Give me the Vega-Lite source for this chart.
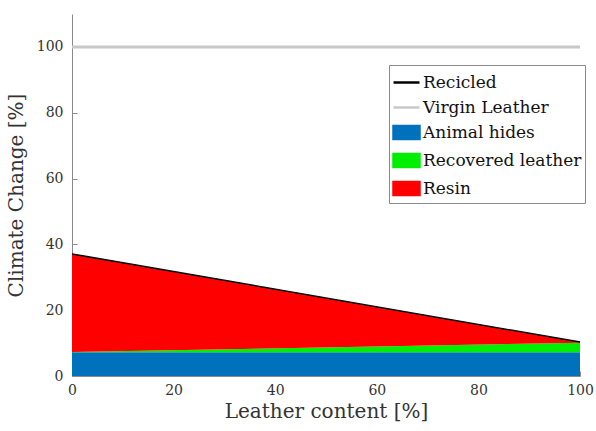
{
  "$schema": "https://vega.github.io/schema/vega-lite/v6.json",
  "width": 508,
  "height": 362,
  "autosize": {"type": "none"},
  "padding": {"left": 72, "top": 14, "right": 16, "bottom": 55},
  "background": "white",
  "config": {
    "view": {"stroke": null},
    "font": "DejaVu Serif",
    "axis": {
      "grid": false,
      "domainColor": "#8a8a8a",
      "tickColor": "#8a8a8a",
      "labelColor": "#333333",
      "titleColor": "#333333",
      "labelFont": "DejaVu Serif",
      "titleFont": "DejaVu Serif",
      "labelFontSize": 14,
      "titleFontSize": 20,
      "titleFontWeight": "normal",
      "tickSize": -5,
      "labelFlush": false
    },
    "legend": {
      "labelFont": "DejaVu Serif",
      "labelFontSize": 17,
      "labelColor": "#111111",
      "labelLimit": 400
    }
  },
  "datasets": {
    "areas": [
      {"leather": 0, "value": 7.2, "series": "Animal hides"},
      {"leather": 100, "value": 7.2, "series": "Animal hides"},
      {"leather": 0, "value": 0.1, "series": "Recovered leather"},
      {"leather": 100, "value": 2.9, "series": "Recovered leather"},
      {"leather": 0, "value": 29.8, "series": "Resin"},
      {"leather": 100, "value": 0.2, "series": "Resin"}
    ],
    "lines": [
      {"leather": 0, "value": 37.1, "series": "Recicled"},
      {"leather": 100, "value": 10.3, "series": "Recicled"},
      {"leather": 0, "value": 100, "series": "Virgin Leather"},
      {"leather": 100, "value": 100, "series": "Virgin Leather"}
    ]
  },
  "layer": [
    {
      "data": {"name": "areas"},
      "mark": {"type": "area", "opacity": 1},
      "encoding": {
        "x": {
          "field": "leather", "type": "quantitative",
          "scale": {"domain": [0, 100], "nice": false},
          "axis": {"values": [0, 20, 40, 60, 80, 100], "title": "Leather content [%]", "titlePadding": 4, "labelPadding": 12}
        },
        "y": {
          "field": "value", "type": "quantitative", "stack": "zero",
          "scale": {"domain": [0, 110], "nice": false},
          "axis": {"values": [0, 20, 40, 60, 80, 100], "title": "Climate Change [%]", "titlePadding": 10, "labelPadding": 14}
        },
        "order": {"field": "series", "sort": "ascending"},
        "color": {
          "field": "series", "type": "nominal",
          "scale": {
            "domain": ["Recicled", "Virgin Leather", "Animal hides", "Recovered leather", "Resin"],
            "range": ["#000000", "#c8c8c8", "#0072BD", "#00ee00", "#ff0000"]
          },
          "legend": {
            "title": null,
            "orient": "none",
            "legendX": 317,
            "legendY": 51,
            "padding": 3,
            "strokeColor": "#8a8a8a",
            "fillColor": "white",
            "labelFont": "DejaVu Serif",
            "labelFontSize": 17,
            "labelLimit": 400,
            "labelColor": "#111111",
            "labelOffset": 2,
            "rowPadding": 2,
            "symbolSize": 676,
            "symbolOpacity": 1,
            "encode": {
              "labels": {
                "update": {
                  "font": {"value": "DejaVu Serif"},
                  "fontSize": {"value": 17},
                  "limit": {"value": 400}
                }
              },
              "symbols": {
                "update": {
                  "shape": {"signal": "(datum.value == 'Recicled' || datum.value == 'Virgin Leather') ? 'M-1,0H1' : 'M-1,-0.5H1V0.5H-1Z'"},
                  "fill": {"signal": "datum.value == 'Animal hides' ? '#0072BD' : datum.value == 'Recovered leather' ? '#00ee00' : datum.value == 'Resin' ? '#ff0000' : 'transparent'"},
                  "stroke": {"signal": "datum.value == 'Recicled' ? '#000000' : datum.value == 'Virgin Leather' ? '#c8c8c8' : 'transparent'"},
                  "strokeWidth": {"value": 2.5},
                  "opacity": {"value": 1}
                }
              }
            }
          }
        }
      }
    },
    {
      "data": {"name": "lines"},
      "mark": {"type": "line"},
      "encoding": {
        "x": {"field": "leather", "type": "quantitative"},
        "y": {"field": "value", "type": "quantitative"},
        "color": {"field": "series", "type": "nominal"},
        "strokeWidth": {
          "field": "series", "type": "nominal",
          "scale": {"domain": ["Recicled", "Virgin Leather"], "range": [1.5, 3]},
          "legend": null
        }
      }
    }
  ]
}
